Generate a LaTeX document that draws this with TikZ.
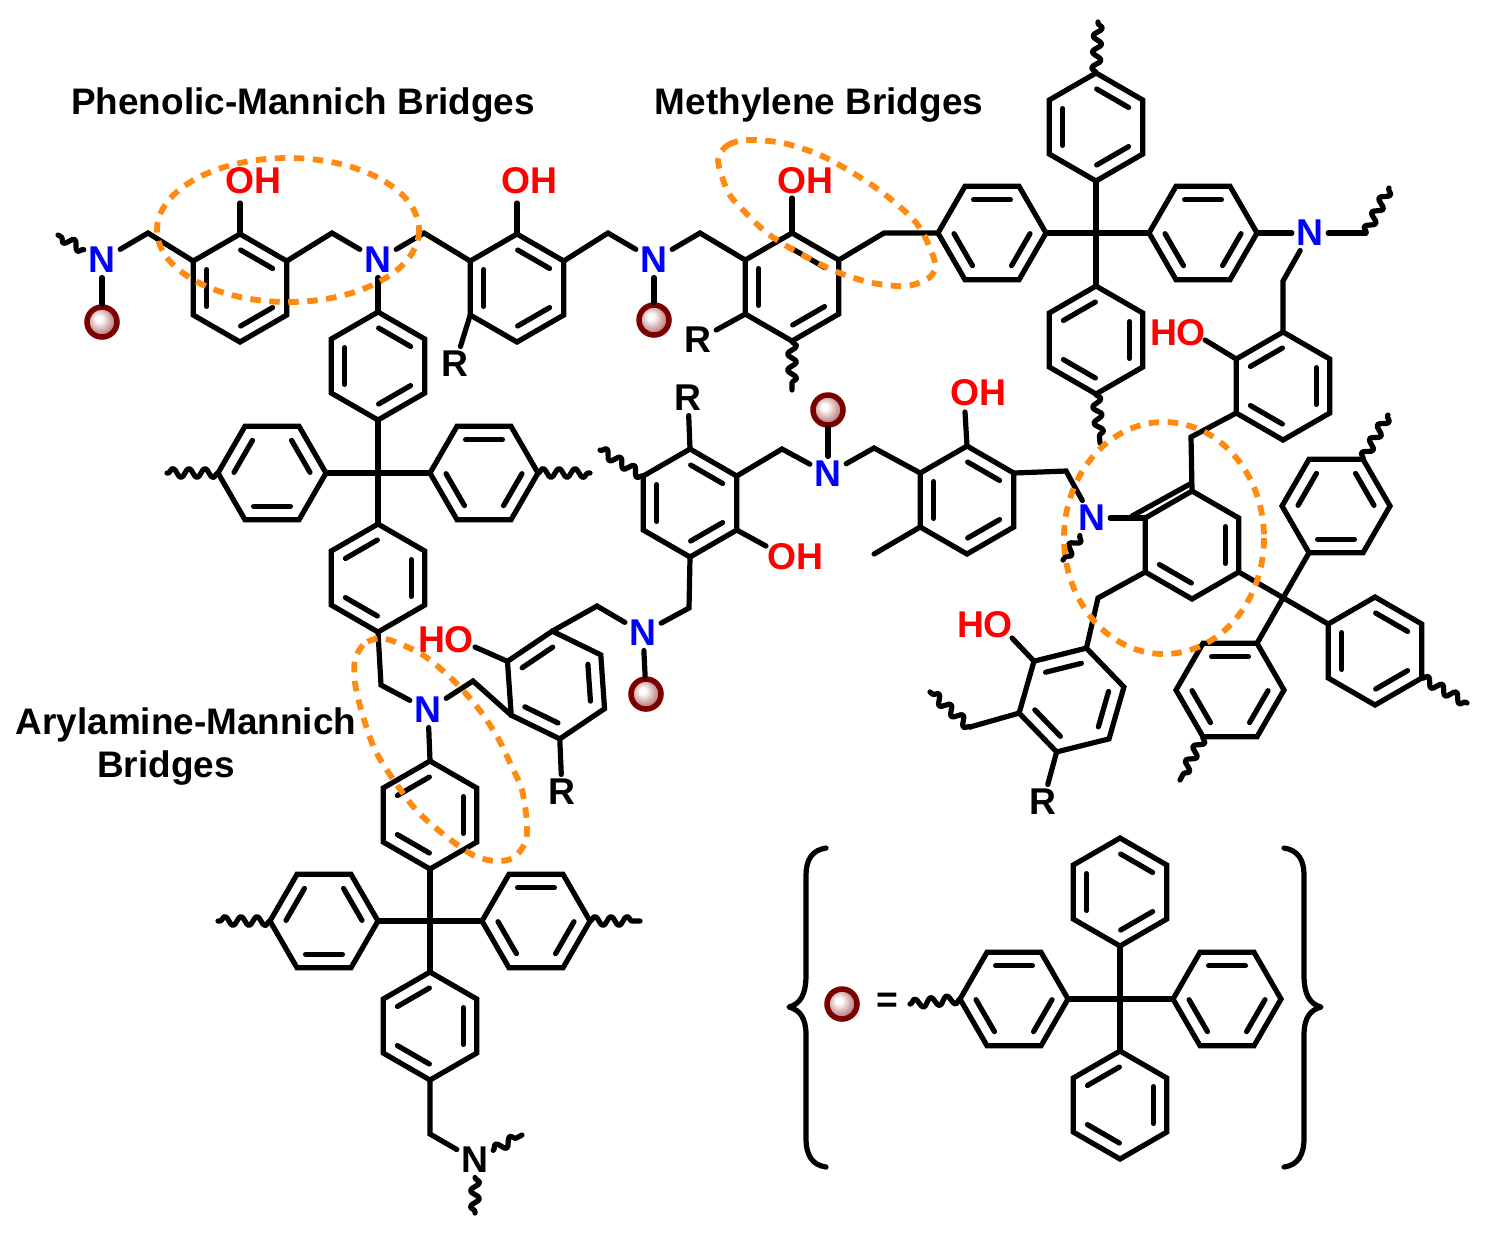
\documentclass[tikz,border=0pt]{standalone}
\usepackage{fontspec}
\setmainfont{Liberation Sans}
\usetikzlibrary{decorations.pathmorphing}
\definecolor{ballred}{HTML}{7B0000}
\definecolor{bridgeorange}{HTML}{FF8A0F}
\pgfdeclareradialshading{ballshade}{\pgfpoint{-6bp}{6bp}}{color(0bp)=(white); color(5bp)=(white); color(20bp)=(ballred!40); color(38bp)=(ballred!85); color(50bp)=(ballred)}
\tikzset{
  bond/.style={black, line width = 0.052cm, line join = miter, line cap = round},
  wavy/.style={bond, line join = round, decorate, decoration = {snake, amplitude = 0.045cm, segment length = 0.16cm}},
  atom/.style={font = \fontsize{10.6}{12}\selectfont\bfseries, inner sep = 0.04cm},
  amine/.style={atom, text = blue},
  hydroxyl/.style={atom, text = red},
  group/.style={atom, text = black},
  title/.style={font = \fontsize{10.5}{12}\selectfont\bfseries, text = black, inner sep = 0},
  ball/.style={circle, draw = ballred, line width = 0.055cm, shade, shading = ballshade, minimum size = 0.3cm, inner sep = 0},
  bridge/.style={bridgeorange, line width = 0.058cm, dash pattern = on 0.105cm off 0.085cm}
}
% name, centre x, centre y, angle of corner 0, sides with an inner line
\newcommand{\phring}[5]{
  \begin{scope}[shift = {(#2, #3)}]
    \foreach \k in {0,...,5} \coordinate (#1-\k) at ({#4 + 60*\k}:54);
    \draw[bond] (#1-0) -- (#1-1) -- (#1-2) -- (#1-3) -- (#1-4) -- (#1-5) -- cycle;
    \foreach \k in {#5} \draw[bond] ({#4 + 60*\k + 1}:38) -- ({#4 + 60*\k + 59}:38);
  \end{scope}
}
\begin{document}
\begin{tikzpicture} [x = 0.01cm, y = -0.01cm]
\useasboundingbox (0, 0) rectangle (1489, 1235);
\node[title] (t1) at (303, 105){Phenolic-Mannich Bridges};
\node[title] (t2) at (819, 105){Methylene Bridges};
\node[title] (t3) at (186, 725){Arylamine-Mannich};
\node[title] (t4) at (166, 768){Bridges};
% rings, top row
\phring{ra}{240}{288}{30}{0,2,4}
\phring{rb}{517}{288}{30}{0,2,4}
\phring{rc}{792}{287}{30}{0,2,4}
\phring{rd}{378}{366}{30}{0,2,4}
\phring{re}{272}{473}{0}{1,3,5}
\phring{rg}{484}{473}{0}{0,2,4}
\phring{rf}{378}{578}{30}{1,3,5}
\phring{rh}{992}{233}{0}{0,2,4}
\phring{rj}{1203}{233}{0}{0,2,4}
\phring{ri}{1096}{127}{30}{0,2,4}
\phring{rk}{1096}{340}{30}{1,3,5}
% rings, middle
\phring{ru}{690}{503}{30}{0,2,4}
\phring{rv}{967}{500}{30}{0,2,4}
\phring{rw}{556}{685}{26}{1,3,5}
\phring{rl}{1283}{386}{30}{1,3,5}
\phring{rm}{1192}{545}{30}{1,5}
\phring{rp}{1071.5}{700}{-14}{0,2,4}
\phring{rq}{1336}{506}{0}{1,3,5}
\phring{rs}{1375}{651}{30}{0,2,4}
\phring{rt}{1230}{690}{0}{0,2,4}
% rings, lower left
\phring{rx}{430}{815}{30}{1,3,5}
\phring{ry}{324}{921}{0}{1,3,5}
\phring{rz}{536}{921}{0}{0,2,4}
\phring{rn}{430}{1026}{30}{1,3,5}
% rings, key
\phring{ka}{1014}{999}{0}{0,2,4}
\phring{kb}{1120}{892}{30}{0,2,4}
\phring{kc}{1227}{999}{0}{0,2,4}
\phring{kd}{1120}{1105}{30}{1,3,5}
% atoms
\node[amine] (n1) at (102, 260){N};
\node[amine] (n2) at (378, 260){N};
\node[amine] (n3) at (654, 260){N};
\node[amine] (n4) at (643, 633){N};
\node[amine] (n5) at (428, 710){N};
\node[amine] (n6) at (828, 474){N};
\node[amine] (n7) at (1092, 518){N};
\node[amine] (n8) at (1310, 233){N};
\node[group] (n9) at (475, 1160){N};
\node[ball] (b1) at (102, 322){};
\node[ball] (b2) at (654, 320){};
\node[ball] (b3) at (646, 694){};
\node[ball] (b4) at (828, 410){};
\node[ball] (b5) at (842, 1004){};
\node[hydroxyl] (oh1) at (253, 181){OH};
\node[hydroxyl] (oh2) at (529, 181){OH};
\node[hydroxyl] (oh3) at (805, 181){OH};
\node[hydroxyl] (oh4) at (978, 393){OH};
\node[hydroxyl] (oh5) at (795, 557){OH};
\node[hydroxyl] (oh6) at (1178, 333){HO};
\node[hydroxyl] (oh7) at (985, 625){HO};
\node[hydroxyl] (oh8) at (446, 640){HO};
\node[group] (g1) at (455, 364){R};
\node[group] (g2) at (698, 340){R};
\node[group] (g3) at (688, 398){R};
\node[group] (g4) at (562, 792){R};
\node[group] (g5) at (1043, 802){R};
\node[group] (eq) at (887, 1003){=};
% top chain
\draw[wavy] (n1) -- (58, 235);
\draw[bond] (n1) -- (b1);
\draw[bond] (n1) -- (148, 233) -- (ra-3);
\draw[bond] (ra-5) -- (332, 233) -- (n2);
\draw[bond] (n2) -- (424, 233) -- (rb-3);
\draw[bond] (n2) -- (rd-4);
\draw[bond] (rb-5) -- (608, 233) -- (n3);
\draw[bond] (n3) -- (b2);
\draw[bond] (n3) -- (700, 233) -- (rc-3);
\draw[bond] (rc-5) -- (884, 233) -- (rh-3);
\draw[bond] (ra-4) -- (240, 203);
\draw[bond] (rb-4) -- (517, 203);
\draw[bond] (rc-4) -- (792, 198);
\draw[bond] (rb-2) -- (g1);
\draw[bond] (rc-2) -- (g2);
\draw[wavy] (rc-1) -- (792, 390);
% first core
\draw[bond] (rd-1) -- (rf-4);
\draw[bond] (re-0) -- (rg-3);
\draw[wavy] (re-3) -- (167, 473);
\draw[wavy] (rg-0) -- (590, 473);
% second core
\draw[bond] (rh-0) -- (rj-3);
\draw[bond] (ri-1) -- (rk-4);
\draw[wavy] (ri-4) -- (1098, 22);
\draw[wavy] (rk-1) -- (1100, 443);
\draw[bond] (rj-0) -- (n8);
\draw[bond] (n8) -- (1366, 233);
\draw[wavy] (1366, 233) -- (1389, 188);
\draw[bond] (n8) -- (1283, 281) -- (rl-4);
\draw[bond] (rl-3) -- (1205, 340);
% middle
\draw[bond] (rf-1) -- (381, 685) -- (n5);
\draw[bond] (n5) -- (473, 681) -- (rw-2);
\draw[bond] (n5) -- (rx-4);
\draw[bond] (rw-3) -- (475, 647);
\draw[bond] (rw-1) -- (g4);
\draw[bond] (rw-4) -- (597, 606) -- (n4);
\draw[bond] (n4) -- (b3);
\draw[bond] (n4) -- (689, 608) -- (ru-1);
\draw[bond] (ru-4) -- (g3);
\draw[wavy] (ru-3) -- (600, 450);
\draw[bond] (ru-0) -- (766, 546);
\draw[bond] (ru-5) -- (782, 449) -- (n6);
\draw[bond] (n6) -- (b4);
\draw[bond] (n6) -- (874, 448) -- (rv-3);
\draw[bond] (rv-4) -- (965, 412);
\draw[bond] (rv-2) -- (874, 554);
\draw[bond] (rv-5) -- (1066, 471) -- (n7);
\draw[bond] (n7) -- (rm-3);
\draw[wavy] (n7) -- (1063, 560);
% right side
\draw[bond] (1132, 516) -- (1190, 484);
\draw[bond] (rm-4) -- (1191, 437) -- (rl-2);
\draw[bond] (rm-2) -- (1098, 598) -- (rp-5);
\draw[bond] (rp-4) -- (1012, 638);
\draw[bond] (rp-2) -- (g5);
\draw[bond] (rp-3) -- (970, 727);
\draw[wavy] (970, 727) -- (930, 692);
\draw[bond] (rm-0) -- (rs-3);
\draw[bond] (rq-2) -- (rt-5);
\draw[wavy] (rq-5) -- (1388, 415);
\draw[wavy] (rs-0) -- (1467, 703);
\draw[wavy] (rt-2) -- (1180, 780);
% lower left
\draw[bond] (rx-1) -- (rn-4);
\draw[bond] (ry-0) -- (rz-3);
\draw[wavy] (ry-3) -- (218, 921);
\draw[wavy] (rz-0) -- (640, 921);
\draw[bond] (rn-1) -- (430, 1134) -- (n9);
\draw[wavy] (n9) -- (522, 1135);
\draw[wavy] (n9) -- (475, 1213);
% key
\draw[wavy] (ka-3) -- (910, 1004);
\draw[bond] (ka-0) -- (kc-3);
\draw[bond] (kb-1) -- (kd-4);
\draw[bond, line join = round] (826, 848).. controls (812, 850) and (806, 860)..(806, 875) -- (806, 975).. controls (806, 995) and (800, 1004)..(789, 1007).. controls (800, 1010) and (806, 1018)..(806, 1035) -- (806, 1138).. controls (806, 1155) and (812, 1165)..(826, 1167);
\draw[bond, line join = round] (1284, 848).. controls (1298, 850) and (1304, 860)..(1304, 875) -- (1304, 975).. controls (1304, 995) and (1310, 1004)..(1321, 1007).. controls (1310, 1010) and (1304, 1018)..(1304, 1035) -- (1304, 1138).. controls (1304, 1155) and (1298, 1165)..(1284, 1167);
% bridges
\draw[bridge] (288, 230) ellipse [x radius = 131, y radius = 72];
\draw[bridge] (1164, 538) ellipse [x radius = 100, y radius = 116];
\draw[bridge] plot[smooth cycle] coordinates {(718, 160) (728, 145) (748, 140) (783, 143) (820, 155) (853, 173) (883, 193) (912, 218) (925, 237) (935, 263) (930, 277) (907, 286) (873, 283) (837, 272) (797, 252) (767, 233) (743, 210) (728, 192)};
\draw[bridge] plot[smooth cycle] coordinates {(375, 639) (363, 645) (355, 660) (355, 683) (362, 713) (375, 750) (395, 782) (418, 812) (447, 837) (473, 855) (495, 861) (513, 858) (525, 843) (527, 823) (522, 790) (512, 767) (498, 738) (478, 708) (453, 680) (423, 655) (390, 640)};
\end{tikzpicture}
\end{document}
